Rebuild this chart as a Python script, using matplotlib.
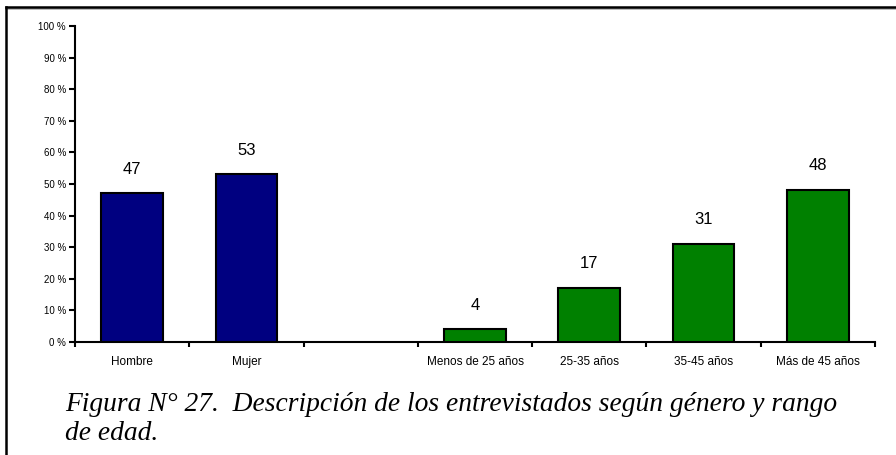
import numpy as np
import matplotlib.pyplot as plt
from matplotlib.lines import Line2D
from matplotlib.ticker import FixedLocator

# respondents by gender and by age range (%)
gender_labels = ['Hombre', 'Mujer']
gender_values = [47, 53]
age_labels = ['Menos de 25 años', '25-35 años', '35-45 años', 'Más de 45 años']
age_values = [4, 17, 31, 48]
y_ticks = [0, 10, 20, 30, 40, 50, 60, 70, 80, 90, 100]

caption = ('Figura N° 27.  Descripción de los entrevistados según género y rango\n'
           'de edad.')

plt.rcParams['font.family'] = ['Liberation Sans', 'DejaVu Sans']

fig = plt.figure(figsize=(8.96, 4.55), dpi=100)
ax = fig.add_axes([0.0837, 0.2484, 0.8929, 0.6945])

# one empty slot between the two groups
x_gender = np.arange(len(gender_values))
x_age = np.arange(len(age_values)) + len(gender_values) + 1

bars = []
bars += ax.bar(x_gender, gender_values, width=0.54, color='#000080',
               edgecolor='black', linewidth=1.5, zorder=3)
bars += ax.bar(x_age, age_values, width=0.54, color='#008000',
               edgecolor='black', linewidth=1.5, zorder=3)

for b, v in zip(bars, gender_values + age_values):
    ax.annotate(str(v), (b.get_x() + b.get_width() / 2, v),
                xytext=(0, 17.5), textcoords='offset points',
                ha='center', va='center', fontsize=12)

n_slots = len(gender_values) + 1 + len(age_values)
ax.set_xlim(-0.5, n_slots - 0.5)
ax.set_ylim(0, 100)

# ticks sit on slot boundaries, names in the middle of each slot
ax.xaxis.set_major_locator(FixedLocator(np.arange(n_slots + 1) - 0.5))
ax.xaxis.set_major_formatter(plt.NullFormatter())
ax.set_xticks(list(x_gender) + list(x_age), minor=True)
ax.set_xticklabels(gender_labels + age_labels, minor=True, fontsize=8.5)
ax.tick_params(axis='x', which='major', direction='out', length=3.5, width=1.5)
ax.tick_params(axis='x', which='minor', length=0, pad=10)

ax.set_yticks(y_ticks)
ax.set_yticklabels([f'{t} %' for t in y_ticks], fontsize=7)
ax.tick_params(axis='y', direction='out', length=4.5, width=1.5, pad=2)

for s in ['top', 'right']:
    ax.spines[s].set_visible(False)
for s in ['left', 'bottom']:
    ax.spines[s].set_linewidth(1.5)

# frame lines around the figure (top and left only)
fig.add_artist(Line2D([6 / 896, 1], [1 - 9 / 455, 1 - 9 / 455],
                      color='#b0b0b0', linewidth=1.2))
fig.add_artist(Line2D([6 / 896, 1], [1 - 7 / 455, 1 - 7 / 455],
                      color='black', linewidth=1.8))
fig.add_artist(Line2D([6 / 896, 6 / 896], [0, 1 - 7 / 455],
                      color='black', linewidth=1.8))

fig.text(65 / 896, 1 - 440 / 455, caption, fontsize=19.8, style='italic',
         family='Liberation Serif', va='baseline', ha='left', linespacing=1.2)

fig.savefig('out.png', dpi=100)
